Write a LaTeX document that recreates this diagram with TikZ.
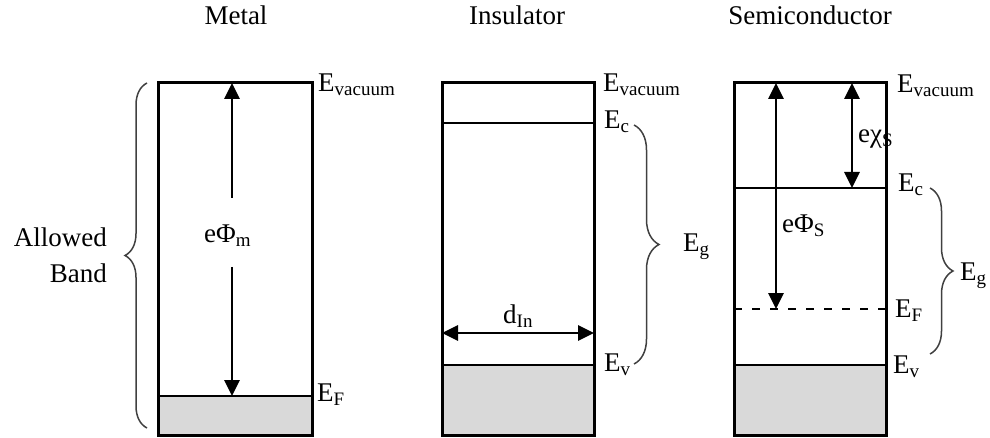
\documentclass[tikz,border=0pt]{standalone}
\usepackage{fontspec}
\setmainfont{Liberation Serif}
\usetikzlibrary{arrows.meta,decorations.pathreplacing}
\newcommand{\sbs}[1]{\raisebox{-4pt}{\fontsize{19}{19}\selectfont #1}}
\begin{document}
\begin{tikzpicture}[x=1pt,y=-1pt,
  txt/.style={font=\fontsize{27}{32}\selectfont, inner sep=0pt, anchor=base west},
  ttl/.style={font=\fontsize{27}{32}\selectfont, inner sep=0pt, anchor=base},
  rtxt/.style={font=\fontsize{27}{32}\selectfont, inner sep=0pt, anchor=base east},
  bandbox/.style={line width=3pt},
  level/.style={line width=2.8pt},
  dlevel/.style={line width=2.8pt, dash pattern=on 8pt off 10pt},
  arr/.style={line width=2.8pt, -{Triangle[length=16pt,width=15pt]}},
  darr/.style={line width=2.8pt, {Triangle[length=16pt,width=15pt]}-{Triangle[length=16pt,width=15pt]}},
  brc/.style={decorate, decoration={brace, amplitude=#1}, line width=1.5pt, draw=black!75},
  filled/.style={fill=black!15}
]
\useasboundingbox (0,0) rectangle (990,438);

% titles
\node[ttl] (tm) at (236,25) {Metal};
\node[ttl] (ti) at (517,25) {Insulator};
\node[ttl] (ts) at (810,25) {Semiconductor};

% ---------- Metal ----------
\fill[filled] (158,396) rectangle (312,435);
\draw[bandbox] (158,83) rectangle (312,435);
\draw[level] (158,396) -- (312,396);
\coordinate (mtop) at (232,83);
\coordinate (mgt) at (232,198);
\coordinate (mgb) at (232,267);
\coordinate (mF) at (232,396);
\draw[arr] (mgt) -- (mtop);
\draw[arr] (mgb) -- (mF);
\node[txt] (mphi) at (204,243) {eΦ\sbs{m}};
\node[txt] (mvac) at (318,92) {E\sbs{vacuum}};
\node[txt] (mef) at (317,401) {E\sbs{F}};
\coordinate (mb1) at (147,428);
\coordinate (mb2) at (147,83);
\draw[brc=22pt] (mb1) -- (mb2);
\node[rtxt] (al) at (107,247) {Allowed};
\node[rtxt] (bd) at (107,283) {Band};

% ---------- Insulator ----------
\fill[filled] (442,365) rectangle (594,435);
\draw[bandbox] (442,83) rectangle (594,435);
\draw[level] (442,123) -- (594,123);
\draw[level] (442,365) -- (594,365);
\coordinate (il) at (442,333);
\coordinate (ir) at (594,333);
\draw[darr] (il) -- (ir);
\node[txt] (din) at (503,323) {d\sbs{In}};
\node[txt] (ivac) at (603,92) {E\sbs{vacuum}};
\node[txt] (iec) at (604,129) {E\sbs{c}};
\node[txt] (iev) at (604,371) {E\sbs{v}};
\coordinate (ib1) at (634,125);
\coordinate (ib2) at (634,364);
\draw[brc=25pt] (ib1) -- (ib2);
\node[txt] (ieg) at (683,252) {E\sbs{g}};

% ---------- Semiconductor ----------
\fill[filled] (734,365) rectangle (886,435);
\draw[bandbox] (734,83) rectangle (886,435);
\draw[level] (734,188) -- (886,188);
\draw[dlevel] (734,309) -- (886,309);
\draw[level] (734,365) -- (886,365);
\coordinate (sp1) at (776,83);
\coordinate (sp2) at (776,309);
\draw[darr] (sp1) -- (sp2);
\coordinate (sc1) at (852,83);
\coordinate (sc2) at (852,188);
\draw[darr] (sc1) -- (sc2);
\node[txt] (sphi) at (782,233) {eΦ\sbs{S}};
\node[txt] (schi) at (858,143) {eχ\sbs{S}};
\node[txt] (svac) at (897,93) {E\sbs{vacuum}};
\node[txt] (sec) at (898,192) {E\sbs{c}};
\node[txt] (sef) at (895,317) {E\sbs{F}};
\node[txt] (sev) at (893,373) {E\sbs{v}};
\coordinate (sb1) at (930,188);
\coordinate (sb2) at (930,354);
\draw[brc=23pt] (sb1) -- (sb2);
\node[txt] (seg) at (960,280) {E\sbs{g}};
\end{tikzpicture}
\end{document}
